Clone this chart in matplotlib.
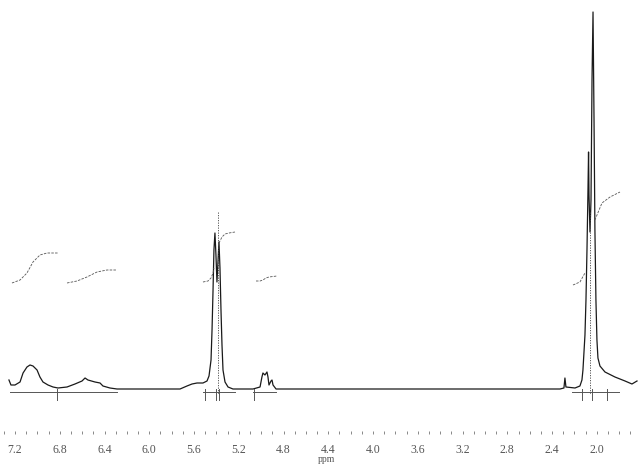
import matplotlib
matplotlib.use('Agg')
import matplotlib.pyplot as plt
from matplotlib.ticker import MultipleLocator, FormatStrFormatter

# 1H NMR trace: chemical shift (ppm) and intensity
shift = [7.254, 7.236, 7.200, 7.155, 7.128, 7.093, 7.066, 7.039, 7.003, 6.977,
         6.950, 6.905, 6.860, 6.816, 6.735, 6.664, 6.601, 6.574, 6.548, 6.485,
         6.440, 6.414, 6.351, 6.288, 5.993, 5.725, 5.663, 5.618, 5.573, 5.520,
         5.484, 5.466, 5.448, 5.439, 5.430, 5.422, 5.413, 5.404, 5.395, 5.386,
         5.377, 5.368, 5.359, 5.350, 5.341, 5.323, 5.296, 5.252, 5.073, 5.010,
         4.993, 4.984, 4.966, 4.948, 4.939, 4.930, 4.912, 4.903, 4.894, 4.867,
         3.759, 2.329, 2.294, 2.285, 2.276, 2.195, 2.151, 2.133, 2.124, 2.106,
         2.097, 2.088, 2.079, 2.074, 2.070, 2.061, 2.052, 2.043, 2.034, 2.025,
         2.017, 2.008, 1.999, 1.990, 1.972, 1.927, 1.838, 1.748, 1.686, 1.641]
intensity = [9, 4, 4, 7, 16, 22, 24, 23, 19, 12,
             7, 4, 2, 1, 2, 5, 8, 11, 9, 7,
             6, 3, 1, 0, 0, 0, 3, 5, 6, 6,
             8, 13, 29, 59, 99, 139, 156, 134, 107, 127,
             147, 121, 79, 44, 19, 7, 2, 0, 0, 2,
             12, 16, 14, 17, 12, 4, 8, 9, 4, 0,
             0, 0, 1, 11, 2, 1, 3, 9, 19, 54,
             89, 139, 199, 237, 194, 157, 189, 309, 377, 269,
             159, 89, 49, 31, 23, 17, 12, 8, 5, 8]

# integral traces (ppm, height)
int1_x = [7.227, 7.155, 7.093, 7.039, 6.977, 6.914, 6.816]
int1_y = [106, 109, 116, 127, 134, 136, 136]
int2_x = [6.735, 6.646, 6.557, 6.467, 6.378, 6.288]
int2_y = [106, 108, 112, 117, 119, 119]
int3a_x = [5.520, 5.475, 5.448, 5.430, 5.422]
int3a_y = [107, 108, 111, 116, 121]
int3b_x = [5.377, 5.350, 5.323, 5.287, 5.234]
int3b_y = [146, 152, 155, 156, 157]
int4_x = [5.046, 5.010, 4.984, 4.957, 4.930, 4.859]
int4_y = [108, 108, 109, 111, 112, 113]
int5a_x = [2.213, 2.151, 2.106]
int5a_y = [104, 107, 116]
int5b_x = [2.017, 1.954, 1.882, 1.793]
int5b_y = [169, 186, 192, 197]

# integration regions (start, end) and divider marks
regions = [(7.245, 6.288), (5.520, 5.234), (5.073, 4.867), (2.222, 1.802)]
dividers = [[6.825], [5.502, 5.404, 5.377], [5.064], [2.133, 2.043, 1.909]]
centres = [5.390, 2.061]

fig = plt.figure(figsize=(6.38, 4.65), dpi=100)
ax = fig.add_axes([0, 31 / 465, 1, 434 / 465])

ax.plot(shift, intensity, color='#1a1a1a', lw=0.9)

for xs, ys in [(int1_x, int1_y), (int2_x, int2_y), (int3a_x, int3a_y),
               (int3b_x, int3b_y), (int4_x, int4_y), (int5a_x, int5a_y),
               (int5b_x, int5b_y)]:
    ax.plot(xs, ys, color='#555555', lw=0.6, ls=(0, (3, 1.5)))

for (a, b), marks in zip(regions, dividers):
    ax.plot([a, b], [-3, -3], color='#555555', lw=0.7)
    for m in marks:
        ax.plot([m, m], [0, -11], color='#555555', lw=0.7)

for c in centres:
    ax.plot([c, c], [177, -5], color='#444444', lw=0.6, ls=(0, (1.5, 1.5)))

ax.set_xlim(7.334, 1.632)
ax.set_ylim(-45, 389)
for s in ax.spines.values():
    s.set_visible(False)
ax.set_yticks([])
ax.xaxis.set_major_locator(MultipleLocator(0.4))
ax.xaxis.set_minor_locator(MultipleLocator(0.1))
ax.xaxis.set_major_formatter(FormatStrFormatter('%.1f'))
ax.tick_params(axis='x', which='both', direction='in', length=2, width=0.7,
               color='#888888', pad=7, labelsize=8.5, labelcolor='#555555')
for lab in ax.get_xticklabels():
    lab.set_family('Liberation Serif')

fig.text(327 / 638, 1 - 459 / 465, 'ppm', ha='center', va='center',
         fontsize=7, color='#555555', family='Liberation Serif')

fig.savefig('out.png', dpi=100)
